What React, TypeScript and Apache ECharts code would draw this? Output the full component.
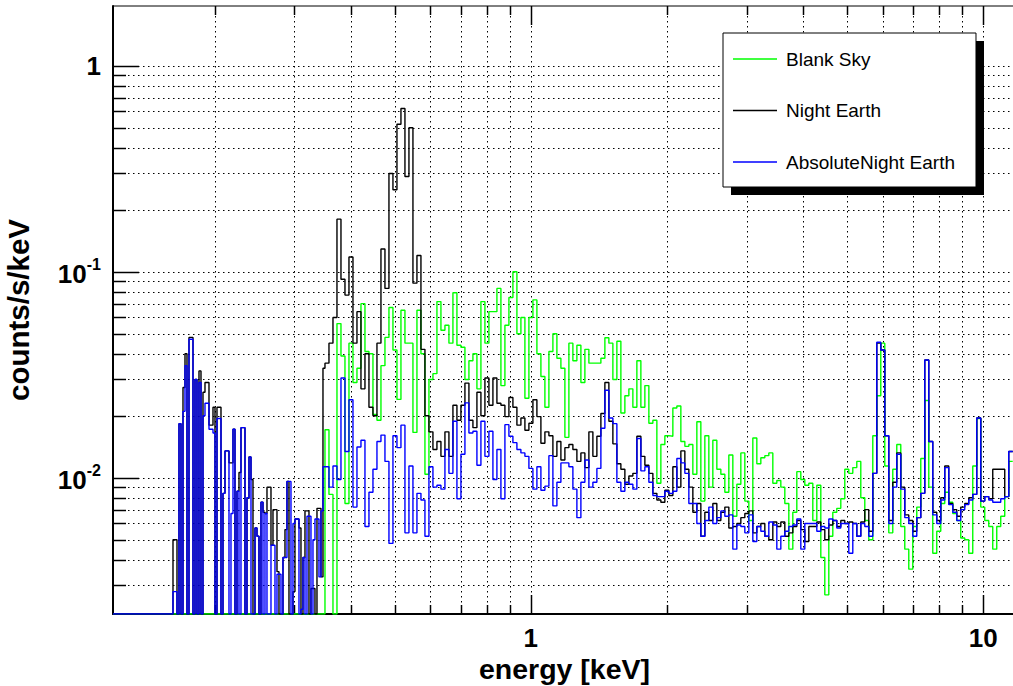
import React, { useEffect, useRef } from "react";
import * as echarts from "echarts";

// ---------- axis ranges (keV, counts/s/keV) ----------
const X_MIN = 0.1193;
const X_MAX = 11.82;
const Y_MIN = 0.00218;
const Y_MAX = 1.95;

// ---------- binning (log-spaced bins) ----------
const LOW_BINS = { firstEdgeKeV: 0.1193, ratio: 1.01023, count: 106 }; // 0.119 - 0.351 keV
const HIGH_BINS = { firstEdgeKeV: 0.3509, ratio: 1.02056, count: 172 }; // 0.351 - 11.8 keV

// ---------- grid / tick values ----------
const X_MAJOR = [1, 10];
const X_MINOR = [0.2, 0.3, 0.4, 0.5, 0.6, 0.7, 0.8, 0.9, 2, 3, 4, 5, 6, 7, 8, 9];
const Y_MAJOR = [0.01, 0.1, 1];
const Y_MINOR = [
  0.003, 0.004, 0.005, 0.006, 0.007, 0.008, 0.009,
  0.02, 0.03, 0.04, 0.05, 0.06, 0.07, 0.08, 0.09,
  0.2, 0.3, 0.4, 0.5, 0.6, 0.7, 0.8, 0.9,
];

const SERIES_NAMES = ["Blank Sky", "Night Earth", "AbsoluteNight Earth"];
const SERIES_COLORS = ["#00ff00", "#000000", "#0000ff"];

// ---------- spectra (counts/s/keV per bin) ----------
// Blank Sky: no counts below 0.351 keV
const BLANK_SKY_LOW: number[] = [];
const BLANK_SKY_HIGH = [
  0.0171, 0.0083, 0, 0.056, 0.039, 0.0075, 0.045, 0.029, 0.034, 0.07,
  0.041, 0.04, 0.0203, 0.019, 0.035, 0.048, 0.067, 0.0417, 0.024, 0.065,
  0.045, 0.045, 0.0166, 0.065, 0.04, 0.0104, 0.03, 0.032, 0.0716, 0.052,
  0.055, 0.045, 0.079, 0.044, 0.043, 0.03, 0.037, 0.04, 0.027, 0.0716,
  0.045, 0.064, 0.064, 0.083, 0.028, 0.055, 0.075, 0.1, 0.05, 0.06,
  0.0243, 0.06, 0.073, 0.04, 0.031, 0.022, 0.041, 0.05, 0.038, 0.034,
  0.0157, 0.045, 0.037, 0.044, 0.029, 0.042, 0.036, 0.036, 0.036, 0.038,
  0.0478, 0.045, 0.03, 0.046, 0.0206, 0.025, 0.027, 0.022, 0.037, 0.022,
  0.028, 0.0184, 0.019, 0.0094, 0.0145, 0.016, 0.0159, 0.0218, 0.0223, 0.015,
  0.0142, 0.0145, 0.0104, 0.0187, 0.0077, 0.016, 0.009, 0.0152, 0.011, 0.0104,
  0.0085, 0.0129, 0.0065, 0.0093, 0.0132, 0.0077, 0.0062, 0.0156, 0.0117, 0.0125,
  0.0128, 0.0132, 0.0094, 0.0097, 0.009, 0.0075, 0.0045, 0.0068, 0.0107, 0.0098,
  0.0092, 0.0094, 0.0062, 0.0092, 0.0041, 0.0027, 0.0052, 0.0068, 0.0071, 0.0079,
  0.011, 0.0105, 0.0112, 0.012, 0.008, 0.0062, 0.005, 0.016, 0.025, 0.045,
  0.0114, 0.0054, 0.011, 0.0145, 0.0058, 0.0045, 0.0036, 0.0058, 0.0072, 0.0124,
  0.0237, 0.009, 0.0043, 0.0055, 0.0075, 0.0085, 0.0076, 0.0067, 0.0062, 0.0051,
  0.005, 0.0043, 0.0114, 0.0194, 0.0072, 0.0062, 0.0058, 0.0045, 0.0058, 0.0065,
  0.0081, 0.012,
];

const NIGHT_EARTH_LOW = [
  0, 0, 0, 0, 0, 0, 0, 0, 0, 0,
  0, 0, 0, 0, 0, 0, 0, 0, 0, 0,
  0, 0, 0, 0, 0, 0, 0, 0, 0, 0,
  0.005, 0.005, 0, 0.0183, 0, 0.0274, 0.04, 0, 0.048, 0.048,
  0, 0.03, 0, 0.033, 0, 0.026, 0.029, 0.029, 0.018, 0.018,
  0.022, 0, 0.022, 0.022, 0, 0.0084, 0.0135, 0.0135, 0.0118, 0.0118,
  0.0172, 0, 0.0086, 0.0106, 0.0175, 0.0175, 0, 0.008, 0.0126, 0.0098,
  0, 0.0057, 0.0052, 0, 0.0076, 0.0068, 0.0067, 0.009, 0.009, 0.0047,
  0.007, 0.007, 0.0035, 0, 0, 0.0041, 0.0056, 0.0096, 0, 0,
  0.0028, 0.0063, 0.0063, 0.0057, 0, 0.0041, 0.0069, 0.0069, 0, 0.0029,
  0.0029, 0, 0.0071, 0.0071, 0.0033, 0.034,
];
const NIGHT_EARTH_HIGH = [
  0.036, 0.045, 0.06, 0.18, 0.092, 0.077, 0.118, 0.045, 0.064, 0.027,
  0.04, 0.022, 0.02, 0.045, 0.129, 0.083, 0.3, 0.25, 0.52, 0.62,
  0.29, 0.5, 0.088, 0.12, 0.042, 0.02, 0.0167, 0.0137, 0.015, 0.0127,
  0.0167, 0.0127, 0.0225, 0.019, 0.0225, 0.0288, 0.019, 0.0175, 0.026, 0.02,
  0.0305, 0.0225, 0.0305, 0.023, 0.0225, 0.0198, 0.0245, 0.022, 0.018, 0.0195,
  0.017, 0.0184, 0.0239, 0.0198, 0.0147, 0.0167, 0.016, 0.0127, 0.015, 0.0122,
  0.014, 0.0145, 0.0137, 0.012, 0.0132, 0.0112, 0.0167, 0.0127, 0.0159, 0.0205,
  0.029, 0.0188, 0.0146, 0.0117, 0.011, 0.0093, 0.0102, 0.0105, 0.0159, 0.0127,
  0.0115, 0.0105, 0.0084, 0.0078, 0.0076, 0.0087, 0.0082, 0.0113, 0.009, 0.0135,
  0.011, 0.009, 0.0068, 0.0075, 0.0052, 0.0068, 0.0062, 0.0075, 0.0062, 0.0068,
  0.0072, 0.0057, 0.0058, 0.006, 0.0064, 0.0067, 0.0069, 0.0054, 0.0058, 0.006,
  0.0052, 0.005, 0.0061, 0.0058, 0.0061, 0.0052, 0.0054, 0.0058, 0.0062, 0.0056,
  0.0049, 0.0058, 0.0058, 0.0061, 0.0056, 0.005, 0.0059, 0.0062, 0.0058, 0.0062,
  0.006, 0.0061, 0.006, 0.0052, 0.0061, 0.007, 0.0055, 0.0105, 0.0451, 0.0417,
  0.016, 0.0062, 0.0095, 0.0132, 0.009, 0.0066, 0.0062, 0.0055, 0.0064, 0.0084,
  0.0373, 0.015, 0.0068, 0.0062, 0.008, 0.0114, 0.0075, 0.007, 0.0065, 0.0072,
  0.0075, 0.008, 0.0083, 0.0195, 0.0077, 0.0081, 0.0079, 0.011, 0.011, 0.011,
  0.0081, 0.0134,
];

const ABS_NIGHT_EARTH_LOW = [
  0, 0, 0, 0, 0, 0, 0, 0, 0, 0,
  0, 0, 0, 0, 0, 0, 0, 0, 0, 0,
  0, 0, 0, 0, 0, 0, 0, 0, 0, 0,
  0.0028, 0.0028, 0, 0.0183, 0, 0.021, 0.035, 0, 0.047, 0.047,
  0, 0.03, 0, 0.029, 0, 0.02, 0.023, 0.023, 0.0172, 0.0172,
  0.0165, 0, 0.0194, 0.0194, 0, 0.0084, 0.0135, 0.0135, 0, 0.0067,
  0.0172, 0, 0.0086, 0, 0.0175, 0.0175, 0, 0.008, 0.0126, 0,
  0, 0.0057, 0.0052, 0, 0.0076, 0, 0.0067, 0, 0, 0.0047,
  0.0047, 0, 0.0034, 0.0034, 0, 0.0041, 0.0041, 0.0096, 0.0096, 0,
  0.006, 0.0063, 0.0063, 0, 0.0023, 0.0041, 0, 0.0065, 0.0065, 0,
  0.005, 0.0063, 0.0063, 0.0033, 0.0069, 0.0113,
];
const ABS_NIGHT_EARTH_HIGH = [
  0.0113, 0.009, 0.0114, 0.0098, 0.0305, 0.0134, 0.0239, 0.0072, 0.0141, 0.0152,
  0.0058, 0.0085, 0.011, 0.015, 0.0161, 0.012, 0.0048, 0.016, 0.014, 0.018,
  0.0054, 0.0114, 0.0054, 0.0084, 0.0078, 0.0052, 0.0113, 0.009, 0.0092, 0.0088,
  0.0137, 0.0105, 0.0188, 0.0079, 0.013, 0.0231, 0.0165, 0.0168, 0.0115, 0.0188,
  0.0127, 0.0168, 0.0098, 0.0137, 0.0079, 0.0181, 0.0159, 0.0148, 0.0137, 0.0132,
  0.0127, 0.0111, 0.0088, 0.0113, 0.0087, 0.0091, 0.0128, 0.0073, 0.0095, 0.0118,
  0.0118, 0.0113, 0.0088, 0.0064, 0.0095, 0.0122, 0.009, 0.0095, 0.0111, 0.0174,
  0.0266, 0.0195, 0.0183, 0.0095, 0.0086, 0.0095, 0.0093, 0.0088, 0.0155, 0.0108,
  0.0113, 0.0095, 0.0082, 0.0081, 0.0081, 0.0086, 0.0084, 0.0086, 0.0124, 0.0118,
  0.0105, 0.0075, 0.0075, 0.006, 0.0052, 0.0062, 0.0072, 0.006, 0.0064, 0.0069,
  0.0065, 0.0066, 0.0045, 0.0059, 0.0058, 0.0054, 0.0066, 0.0049, 0.0058, 0.0055,
  0.0052, 0.0061, 0.0059, 0.0045, 0.0052, 0.0055, 0.0058, 0.0059, 0.0063, 0.0045,
  0.006, 0.006, 0.006, 0.0055, 0.0058, 0.0057, 0.0063, 0.0062, 0.0057, 0.006,
  0.006, 0.0043, 0.006, 0.0052, 0.006, 0.0058, 0.0052, 0.0105, 0.0455, 0.0417,
  0.016, 0.006, 0.009, 0.013, 0.0088, 0.0064, 0.006, 0.0052, 0.0064, 0.0084,
  0.0373, 0.015, 0.0066, 0.006, 0.0078, 0.0112, 0.0074, 0.0068, 0.0062, 0.007,
  0.0074, 0.0078, 0.0083, 0.0195, 0.0077, 0.0081, 0.0078, 0.0076, 0.0076, 0.0079,
  0.0081, 0.0134,
];

const FONT = '"Liberation Sans", Arial, Helvetica, sans-serif';

// Turn bin contents into step points: [leftEdge, value] + closing right edge.
function buildHistogram(low: number[], high: number[]): [number, number][] {
  const pts: [number, number][] = [];
  const shown = (v: number | undefined) => (v && v > 0 ? v : Y_MIN); // empty bins sit on the axis
  let e = LOW_BINS.firstEdgeKeV;
  for (let j = 0; j < LOW_BINS.count; j++) {
    pts.push([e, shown(low[j])]);
    e *= LOW_BINS.ratio;
  }
  e = HIGH_BINS.firstEdgeKeV;
  for (let k = 0; k < HIGH_BINS.count; k++) {
    pts.push([e, shown(high[k])]);
    e *= HIGH_BINS.ratio;
  }
  pts.push([e, pts[pts.length - 1][1]]);
  return pts;
}

function powerOfTen(v: number): number | null {
  const l = Math.log10(v);
  const r = Math.round(l);
  return Math.abs(l - r) < 1e-6 ? r : null;
}

export default function App() {
  const ref = useRef<HTMLDivElement | null>(null);

  useEffect(() => {
    if (!ref.current) return;
    const chart = echarts.init(ref.current, undefined, { renderer: "svg" });

    const gridData: number[][] = [];
    X_MAJOR.forEach((x) => gridData.push([x, 1, 0, 1]));
    X_MINOR.forEach((x) => gridData.push([x, 1, 0, 0]));
    Y_MAJOR.forEach((y) => gridData.push([1, y, 1, 1]));
    Y_MINOR.forEach((y) => gridData.push([1, y, 1, 0]));

    const dotted = { stroke: "#000", lineWidth: 1, lineDash: [1.5, 3.5], fill: null };
    const solid = { stroke: "#000", lineWidth: 1.5, fill: null };

    const histos = [
      buildHistogram(BLANK_SKY_LOW, BLANK_SKY_HIGH),
      buildHistogram(NIGHT_EARTH_LOW, NIGHT_EARTH_HIGH),
      buildHistogram(ABS_NIGHT_EARTH_LOW, ABS_NIGHT_EARTH_HIGH),
    ];

    const option: any = {
      animation: false,
      backgroundColor: "#fff",
      grid: {
        left: 113,
        right: -3,
        top: 6,
        bottom: 72,
        show: true,
        borderColor: "#000",
        borderWidth: 1,
        backgroundColor: "transparent",
        containLabel: false,
        outerBoundsMode: "none",
      },
      xAxis: {
        type: "log",
        logBase: 10,
        min: X_MIN,
        max: X_MAX,
        axisLine: { show: true, onZero: false, lineStyle: { color: "#000", width: 2 } },
        axisTick: { show: false },
        splitLine: { show: false },
        axisLabel: {
          formatter: (v: number) => {
            const p = powerOfTen(v);
            return p === null ? "" : String(Math.round(Math.pow(10, p)));
          },
          color: "#000",
          fontSize: 26,
          lineHeight: 20,
          fontWeight: "bold",
          fontFamily: FONT,
          margin: 14,
        },
        name: "energy [keV]",
        nameLocation: "middle",
        nameGap: 41,
        nameMoveOverlap: false,
        nameTextStyle: { color: "#000", fontSize: 28.5, lineHeight: 27, fontWeight: "bold", fontFamily: FONT },
      },
      yAxis: {
        type: "log",
        logBase: 10,
        min: Y_MIN,
        max: Y_MAX,
        axisLine: { show: true, onZero: false, lineStyle: { color: "#000", width: 2 } },
        axisTick: { show: false },
        splitLine: { show: false },
        axisLabel: {
          formatter: (v: number) => {
            const p = powerOfTen(v);
            if (p === null) return "";
            if (p === 0) return "{b|1}";
            return "{b|10}{s|" + p + "}";
          },
          color: "#000",
          fontSize: 26,
          fontWeight: "bold",
          fontFamily: FONT,
          margin: 12,
          rich: {
            b: { fontSize: 26, fontWeight: "bold", fontFamily: FONT, color: "#000", verticalAlign: "bottom" },
            s: {
              fontSize: 16,
              fontWeight: "bold",
              fontFamily: FONT,
              color: "#000",
              verticalAlign: "bottom",
              padding: [0, 0, 14, 0],
            },
          },
        },
        name: "counts/s/keV",
        nameLocation: "middle",
        nameGap: 80,
        nameTextStyle: { color: "#000", fontSize: 29.5, fontWeight: "bold", fontFamily: FONT },
      },
      legend: {
        data: SERIES_NAMES,
        orient: "vertical",
        left: 723,
        top: 33,
        padding: [16, 21, 15, 10],
        itemGap: 31.5,
        itemWidth: 44,
        itemHeight: 1.6,
        icon: "rect",
        selectedMode: false,
        backgroundColor: "#fff",
        borderColor: "#000",
        borderWidth: 1,
        borderRadius: 0,
        textStyle: { fontSize: 19, fontFamily: FONT, color: "#000", lineHeight: 20, padding: [0, 0, 0, 4] },
        z: 11,
      },
      graphic: [
        {
          type: "rect",
          shape: { x: 731, y: 41, width: 253, height: 154 },
          style: { fill: "#000" },
          z: 10,
          silent: true,
        },
      ],
      series: [
        {
          type: "custom",
          name: "grid",
          silent: true,
          z: 1,
          clip: false,
          data: gridData,
          renderItem: (params: any, api: any) => {
            const cs = params.coordSys;
            const vertical = api.value(2) === 0;
            const major = api.value(3) === 1;
            const left = cs.x;
            const right = cs.x + cs.width;
            const top = cs.y;
            const bottom = cs.y + cs.height;
            if (vertical) {
              const px = Math.round(api.coord([api.value(0), 1])[0]) + 0.5;
              const len = major ? 19 : 9;
              return {
                type: "group",
                children: [
                  { type: "line", shape: { x1: px, y1: top, x2: px, y2: bottom }, style: dotted },
                  { type: "line", shape: { x1: px, y1: bottom, x2: px, y2: bottom - len }, style: solid },
                  { type: "line", shape: { x1: px, y1: top, x2: px, y2: top + len }, style: solid },
                ],
              };
            }
            const py = Math.round(api.coord([1, api.value(1)])[1]) + 0.5;
            const len = major ? 26 : 13;
            return {
              type: "group",
              children: [
                { type: "line", shape: { x1: left, y1: py, x2: right, y2: py }, style: dotted },
                { type: "line", shape: { x1: left, y1: py, x2: left + len, y2: py }, style: solid },
              ],
            };
          },
        },
        ...SERIES_NAMES.map((name, i) => ({
          type: "line",
          name,
          data: histos[i],
          step: "end",
          symbol: "none",
          showSymbol: false,
          clip: true,
          z: 2 + i,
          lineStyle: { color: SERIES_COLORS[i], width: 1.4 },
          itemStyle: { color: SERIES_COLORS[i] },
          emphasis: { disabled: true },
        })),
      ],
    };

    chart.setOption(option);
    return () => chart.dispose();
  }, []);

  return (
    <div
      ref={ref}
      style={{ position: "absolute", left: 0, top: 0, width: 1013, height: 686, background: "#fff" }}
    />
  );
}
